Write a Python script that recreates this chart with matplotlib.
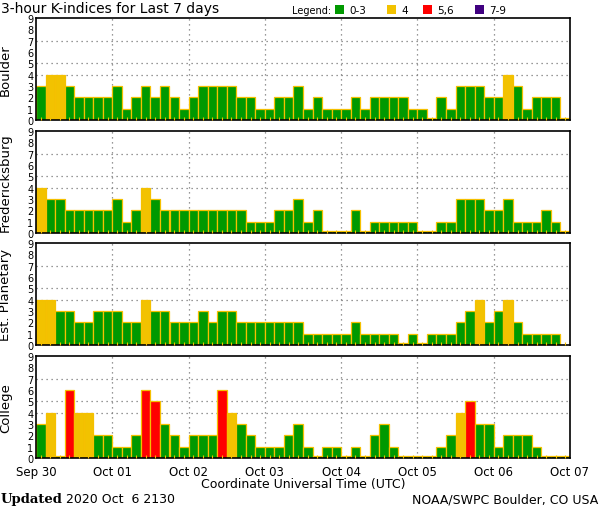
import matplotlib
matplotlib.use("Agg")
import matplotlib.pyplot as plt
import matplotlib.transforms as mtrans
import numpy as np

stations = ["Boulder", "Fredericksburg", "Est. Planetary", "College"]
boulder = [3, 4, 4, 3, 2, 2, 2, 2,
           3, 1, 2, 3, 2, 3, 2, 1,
           2, 3, 3, 3, 3, 2, 2, 1,
           1, 2, 2, 3, 1, 2, 1, 1,
           1, 2, 1, 2, 2, 2, 2, 1,
           1, 0, 2, 1, 3, 3, 3, 2,
           2, 4, 3, 1, 2, 2, 2, 0]
fredericksburg = [4, 3, 3, 2, 2, 2, 2, 2,
                  3, 1, 2, 4, 3, 2, 2, 2,
                  2, 2, 2, 2, 2, 2, 1, 1,
                  1, 2, 2, 3, 1, 2, 0, 0,
                  0, 2, 0, 1, 1, 1, 1, 1,
                  0, 0, 1, 1, 3, 3, 3, 2,
                  2, 3, 1, 1, 1, 2, 1, 0]
planetary = [4, 4, 3, 3, 2, 2, 3, 3,
             3, 2, 2, 4, 3, 3, 2, 2,
             2, 3, 2, 3, 3, 2, 2, 2,
             2, 2, 2, 2, 1, 1, 1, 1,
             1, 2, 1, 1, 1, 1, 0, 1,
             0, 1, 1, 1, 2, 3, 4, 2,
             3, 4, 2, 1, 1, 1, 1, None]
college = [3, 4, 0, 6, 4, 4, 2, 2,
           1, 1, 2, 6, 5, 3, 2, 1,
           2, 2, 2, 6, 4, 3, 2, 1,
           1, 1, 2, 3, 1, 0, 1, 1,
           0, 1, 0, 2, 3, 1, 0, 0,
           0, 0, 1, 2, 4, 5, 3, 3,
           1, 2, 2, 2, 1, 0, 0, 0]
series = [boulder, fredericksburg, planetary, college]
day_labels = ["Sep 30", "Oct 01", "Oct 02", "Oct 03", "Oct 04", "Oct 05", "Oct 06", "Oct 07"]
legend_labels = ["0-3", "4", "5,6", "7-9"]

GREEN = "#009900"
YELLOW = "#f2c200"
RED = "#ff0000"
PURPLE = "#400080"
EDGE = "#f5c000"
legend_colors = [GREEN, YELLOW, RED, PURPLE]


def kcolor(v):
    if v <= 3:
        return GREEN
    if v == 4:
        return YELLOW
    if v <= 6:
        return RED
    return PURPLE


W, H = 600, 510
fig = plt.figure(figsize=(W / 100, H / 100), dpi=100)
plt.rcParams['font.family'] = ['DejaVu Sans']


def fx(x):
    return x / W


def fy(y):
    return 1 - y / H


panel_tops = [19, 132, 244, 357]
panel_h = 102
left, right = 36, 570
shift_down = mtrans.ScaledTranslation(0, -1.5 / 100, fig.dpi_scale_trans)

for idx, (name, vals) in enumerate(zip(stations, series)):
    top = panel_tops[idx]
    ax = fig.add_axes([fx(left), fy(top + panel_h), (right - left) / W, panel_h / H])
    ax.set_xlim(0, 56)
    ax.set_ylim(0, 9)
    for gy in [4, 5, 7]:
        ax.axhline(gy, color="#777777", lw=0.9, ls=(0, (1, 3)), zorder=1)
    for gx in range(8, 56, 8):
        ax.axvline(gx, color="#777777", lw=0.9, ls=(0, (1, 3)), zorder=1)
    xs, hs, cs = [], [], []
    for i, v in enumerate(vals):
        if v is None:
            continue
        xs.append(i + 0.5)
        hs.append(v if v > 0 else 0.2)
        cs.append(kcolor(v))
    ax.bar(xs, hs, width=1.0, color=cs, edgecolor=EDGE, linewidth=0.9, zorder=2)
    ax.set_yticks(range(10))
    ax.set_yticklabels([str(k) for k in range(10)], fontsize=7)
    for lab in ax.get_yticklabels():
        lab.set_transform(lab.get_transform() + shift_down)
    ax.tick_params(axis='y', length=0, pad=2)
    ax.set_xticks(np.arange(0, 57, 8))
    ax.set_xticks(np.arange(0.5, 56, 1), minor=True)
    ax.tick_params(axis='x', which='minor', direction='in', length=2, color=EDGE, width=0.8)
    ax.tick_params(axis='x', which='major', length=0, pad=5)
    if idx == 3:
        ax.set_xticklabels(day_labels, fontsize=8.5)
    else:
        ax.set_xticklabels([])
    for s in ['left', 'top', 'bottom']:
        ax.spines[s].set_linewidth(1.2)
        ax.spines[s].set_color('black')
    ax.spines['right'].set_linestyle((0, (2, 1)))
    ax.spines['right'].set_linewidth(1.2)
    ax.set_ylabel(name, fontsize=9.5, labelpad=6)
    ax.yaxis.set_label_coords(-0.045, 0.5)
    ax.set_axisbelow(False)

fig.text(fx(1), fy(9.5), "3-hour K-indices for Last 7 days", fontsize=10, va='center', ha='left')
fig.text(fx(292), fy(11), "Legend:", fontsize=7, va='center', ha='left')
sq_x = [335, 387, 423, 475]
for sx, col, lab in zip(sq_x, legend_colors, legend_labels):
    fig.patches.append(plt.Rectangle((fx(sx), fy(15)), 9 / W, 9 / H, transform=fig.transFigure,
                                     facecolor=col, edgecolor='none'))
    fig.text(fx(sx + 14), fy(11), lab, fontsize=7.5, va='center', ha='left')

fig.text(fx(303), fy(485), "Coordinate Universal Time (UTC)", fontsize=9, ha='center', va='center')
fig.text(fx(1), fy(500), "Updated", fontsize=9.5, fontweight='bold', family='DejaVu Serif',
         ha='left', va='center')
fig.text(fx(66), fy(500), "2020 Oct  6 2130", fontsize=9, ha='left', va='center')
fig.text(fx(598), fy(500), "NOAA/SWPC Boulder, CO USA", fontsize=9, ha='right', va='center')

fig.savefig("out.png", dpi=100)
